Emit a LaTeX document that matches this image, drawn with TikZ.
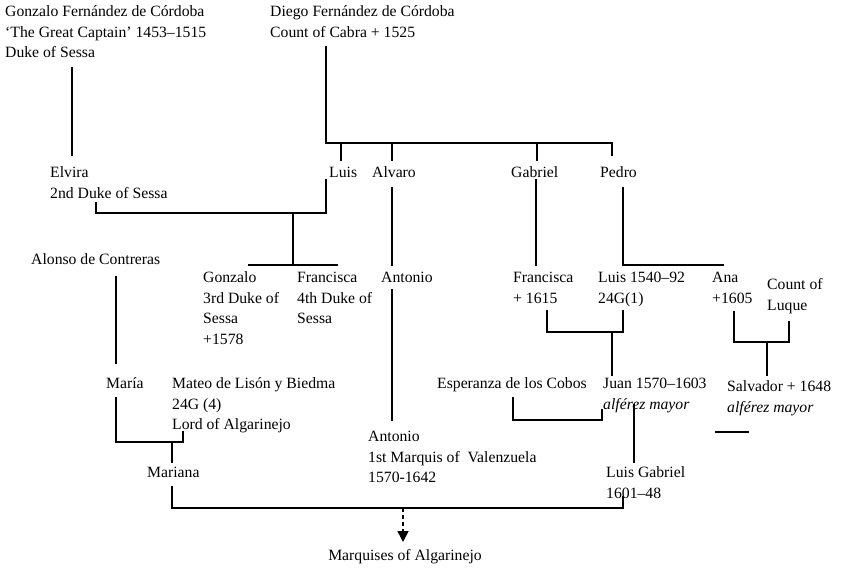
\documentclass[tikz,border=0pt]{standalone}
\usepackage{fontspec}
\setmainfont{Liberation Serif}
\usetikzlibrary{arrows.meta}
\newcommand\treefont{\fontsize{15.7}{20.5}\selectfont}
\tikzset{
  person/.style={anchor=north west, inner sep=0pt, align=left, font=\treefont},
  link/.style={line width=1.7pt, line cap=rect},
  thinlink/.style={line width=1.2pt},
  descent/.style={line width=1.5pt, dash pattern=on 4pt off 3pt, -{Triangle[width=11pt,length=11pt]}}
}
\begin{document}
\begin{tikzpicture}[x=1pt, y=-1pt]
\useasboundingbox (0,0) rectangle (842,574);
% ---------- people ----------
\node[person] (gonzalo)    at (5,2)     {\strut Gonzalo Fernández de Córdoba\\‘The Great Captain’ 1453–1515\\Duke of Sessa};
\node[person] (diego)      at (270,2)   {\strut Diego Fernández de Córdoba\\Count of Cabra + 1525};
\node[person] (elvira)     at (50,163)  {\strut Elvira\\2nd Duke of Sessa};
\node[person] (luis)       at (329,163) {\strut Luis};
\node[person] (alvaro)     at (372,163) {\strut Alvaro};
\node[person] (gabriel)    at (511,163) {\strut Gabriel};
\node[person] (pedro)      at (600,163) {\strut Pedro};
\node[person] (alonso)     at (31,250)  {\strut Alonso de Contreras};
\node[person] (gonzalo3)   at (203,268) {\strut Gonzalo\\3rd Duke of\\Sessa\\+1578};
\node[person] (francisca4) at (297,268) {\strut Francisca\\4th Duke of\\Sessa};
\node[person] (antonio)    at (381,268) {\strut Antonio};
\node[person] (francisca)  at (513,268) {\strut Francisca\\+ 1615};
\node[person] (luis2)      at (598,268) {\strut Luis 1540–92\\24G(1)};
\node[person] (ana)        at (712,268) {\strut Ana\\+1605};
\node[person] (luque)      at (767,275) {\strut Count of\\Luque};
\node[person] (maria)      at (106,374) {\strut María};
\node[person] (mateo)      at (172,374) {\strut Mateo de Lisón y Biedma\\24G (4)\\Lord of Algarinejo};
\node[person] (esperanza)  at (437,374) {\strut Esperanza de los Cobos};
\node[person] (juan)       at (603,374) {\strut Juan 1570–1603\\\textit{alférez mayor}};
\node[person] (salvador)   at (727,377) {\strut Salvador + 1648\\\textit{alférez mayor}};
\node[person] (antonio2)   at (368,427) {\strut Antonio\\1st Marquis of\ \ Valenzuela\\1570-1642};
\node[person] (mariana)    at (147,463) {\strut Mariana};
\node[person] (luisgab)    at (606,463) {\strut Luis Gabriel\\1601–48};
\node[person, anchor=north] (marquises) at (405,546) {\strut Marquises of Algarinejo};
% ---------- junction points ----------
\coordinate (gz-a) at (72,68);   \coordinate (gz-b) at (72,155);
\coordinate (dg-a) at (326,47);  \coordinate (dg-b) at (326,143); \coordinate (dg-c) at (612,143); \coordinate (dg-d) at (612,155);
\coordinate (t-luis) at (341,143);  \coordinate (t-luis2) at (341,160);
\coordinate (t-alv) at (392,143);   \coordinate (t-alv2) at (392,160);
\coordinate (t-gab) at (537,143);   \coordinate (t-gab2) at (537,160);
\coordinate (el-a) at (96,203);  \coordinate (el-b) at (96,213); \coordinate (lu-b) at (326,213); \coordinate (lu-a) at (326,180);
\coordinate (el-c) at (293,213); \coordinate (el-d) at (293,265);
\coordinate (sib-l) at (249,265); \coordinate (sib-r) at (337,265);
\coordinate (alv-a) at (392,188); \coordinate (alv-b) at (392,265);
\coordinate (ant-a) at (392,290); \coordinate (ant-b) at (392,420);
\coordinate (gab-a) at (536,180); \coordinate (gab-b) at (536,265);
\coordinate (ped-a) at (623,188); \coordinate (ped-b) at (623,265); \coordinate (ped-c) at (723,265);
\coordinate (fr-a) at (547,311); \coordinate (fr-b) at (547,332); \coordinate (l2-b) at (623,332); \coordinate (l2-a) at (623,311);
\coordinate (fl-c) at (612,332); \coordinate (fl-d) at (612,375);
\coordinate (an-a) at (734,312); \coordinate (an-b) at (734,342); \coordinate (cl-b) at (789,342); \coordinate (cl-a) at (789,322);
\coordinate (ac-c) at (767,342); \coordinate (ac-d) at (767,376);
\coordinate (al-a) at (116,277); \coordinate (al-b) at (116,363);
\coordinate (ma-a) at (116,398); \coordinate (ma-b) at (116,442); \coordinate (mt-b) at (183,442); \coordinate (mt-a) at (183,432);
\coordinate (mm-c) at (172,442); \coordinate (mm-d) at (172,462);
\coordinate (es-a) at (513,398); \coordinate (es-b) at (513,420); \coordinate (ju-b) at (602,420); \coordinate (ju-a) at (602,410);
\coordinate (ej-c) at (634,405); \coordinate (ej-d) at (634,462);
\coordinate (mr-a) at (172,487); \coordinate (mr-b) at (172,508); \coordinate (lg-b) at (623,508); \coordinate (lg-a) at (623,497);
\coordinate (mq-a) at (403,508); \coordinate (mq-b) at (403,542);
\coordinate (sm-a) at (716,432); \coordinate (sm-b) at (748,432);
% ---------- connectors ----------
\draw[link] (gz-a) -- (gz-b);
\draw[link] (dg-a) -- (dg-b) -- (dg-c) -- (dg-d);
\draw[link] (t-luis) -- (t-luis2);
\draw[link] (t-alv) -- (t-alv2);
\draw[link] (t-gab) -- (t-gab2);
\draw[link] (el-a) -- (el-b) -- (lu-b) -- (lu-a);
\draw[link] (el-c) -- (el-d);
\draw[link] (sib-l) -- (sib-r);
\draw[link] (alv-a) -- (alv-b);
\draw[link] (ant-a) -- (ant-b);
\draw[link] (gab-a) -- (gab-b);
\draw[link] (ped-a) -- (ped-b) -- (ped-c);
\draw[link] (fr-a) -- (fr-b) -- (l2-b) -- (l2-a);
\draw[link] (fl-c) -- (fl-d);
\draw[link] (an-a) -- (an-b) -- (cl-b) -- (cl-a);
\draw[thinlink] (ac-c) -- (ac-d);
\draw[link] (al-a) -- (al-b);
\draw[link] (ma-a) -- (ma-b) -- (mt-b) -- (mt-a);
\draw[link] (mm-c) -- (mm-d);
\draw[link] (es-a) -- (es-b) -- (ju-b) -- (ju-a);
\draw[link] (ej-c) -- (ej-d);
\draw[link] (mr-a) -- (mr-b) -- (lg-b) -- (lg-a);
\draw[descent] (mq-a) -- (mq-b);
\draw[link] (sm-a) -- (sm-b);
\end{tikzpicture}
\end{document}
